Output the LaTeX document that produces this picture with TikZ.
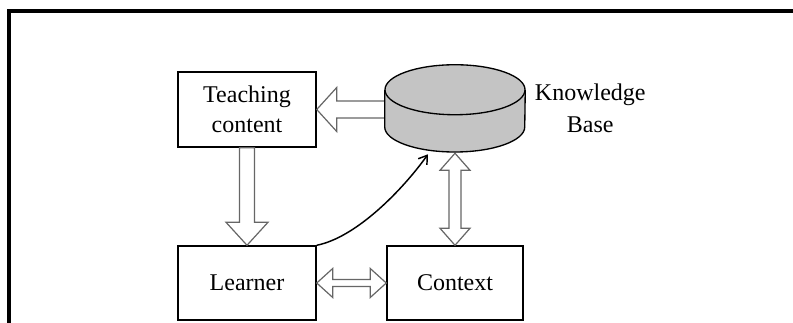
\documentclass[tikz,border=0pt]{standalone}
\usepackage{fontspec}
\setmainfont{Liberation Serif}
\usetikzlibrary{calc,arrows.meta}
\begin{document}
\begin{tikzpicture}[x=0.75pt,y=-0.75pt,
  box/.style={draw, line width=1.1pt, inner sep=0pt, fill=white, align=center,
              font=\fontsize{18}{22.5}\selectfont},
  lbl/.style={font=\fontsize{18}{24}\selectfont, align=center},
  hollow/.style={draw=black!60, fill=white, line width=0.9pt, line join=miter},
  cylfill/.style={fill=black!23},
  cylline/.style={draw=black, line width=1pt},
]
\useasboundingbox (0,0) rectangle (793,322);
% outer frame (continues past the right and bottom edges)
\draw[line width=3pt] (9,335) -- (9,11) -- (805,11);

% boxes
\node[box, minimum width=103.5pt, minimum height=56.25pt] (tc) at (247,109.5) {Teaching\\content};
\node[box, minimum width=103.5pt, minimum height=55.5pt] (lr) at (247,283) {Learner};
\node[box, minimum width=102pt, minimum height=55.5pt] (cx) at (455,283) {Context};
% bounding node of the knowledge base cylinder
\node[inner sep=0pt, minimum width=105pt, minimum height=65.25pt] (kb) at (455,108.5) {};
\node[lbl] (kbl) at ($(kb.east)+(65,0)$) {Knowledge\\Base};

% hollow block arrows
\draw[hollow] (tc.east) -- ++(20,-22) -- ++(0,13.5) -- ($(tc.east -| kb.west)+(8,-8.5)$)
  -- ++(0,17) -- ($(tc.east)+(20,8.5)$) -- ++(0,13.5) -- cycle;
\draw[hollow] (lr.north) -- ++(-21,-23) -- ++(13.5,0) -- ($(tc.south)+(-7.5,0)$)
  -- ++(15,0) -- ($(lr.north)+(7.5,-23)$) -- ++(13.5,0) -- cycle;
\draw[hollow] (lr.east) -- ++(16,-14.5) -- ++(0,11) -- ($(cx.west)+(-16,-3.5)$)
  -- ++(0,-11) -- (cx.west) -- ++(-16,14.5) -- ++(0,-11) -- ($(lr.east)+(16,3.5)$)
  -- ++(0,11) -- cycle;
\coordinate (kbt) at ($(kb.south)+(0,1)$);
\draw[hollow] (kbt) -- ++(15,17) -- ++(-9,0) -- ($(cx.north)+(6,-17)$) -- ++(9,0)
  -- (cx.north) -- ++(-15,-17) -- ++(9,0) -- ($(kbt)+(-6,17)$) -- ++(-9,0) -- cycle;

% knowledge base cylinder
\path[cylfill] ($(kb.west)+(0,-18.5)$) -- ($(kb.west)+(0,18.5)$)
  arc[start angle=180, end angle=360, x radius=52.5pt, y radius=18.75pt]
  -- ($(kb.east)+(0,-18.5)$)
  arc[start angle=0, end angle=180, x radius=52.5pt, y radius=18.75pt] -- cycle;
\draw[cylline] ($(kb.west)+(0,-18.5)$) -- ($(kb.west)+(0,18.5)$)
  arc[start angle=180, end angle=360, x radius=52.5pt, y radius=18.75pt]
  -- ($(kb.east)+(0,-18.5)$);
\draw[cylline, cylfill] ($(kb.north)+(0,25)$) ellipse [x radius=52.5pt, y radius=18.75pt];

% curved arrow from the learner to the knowledge base
\coordinate (kbin) at ($(kb.south)+(-27,2)$);
\draw[line width=1.1pt, -{Straight Barb[length=6pt, width=8pt]}]
  (lr.north east) .. controls +(40,-8) and +(-25,35) .. (kbin);
\end{tikzpicture}
\end{document}
